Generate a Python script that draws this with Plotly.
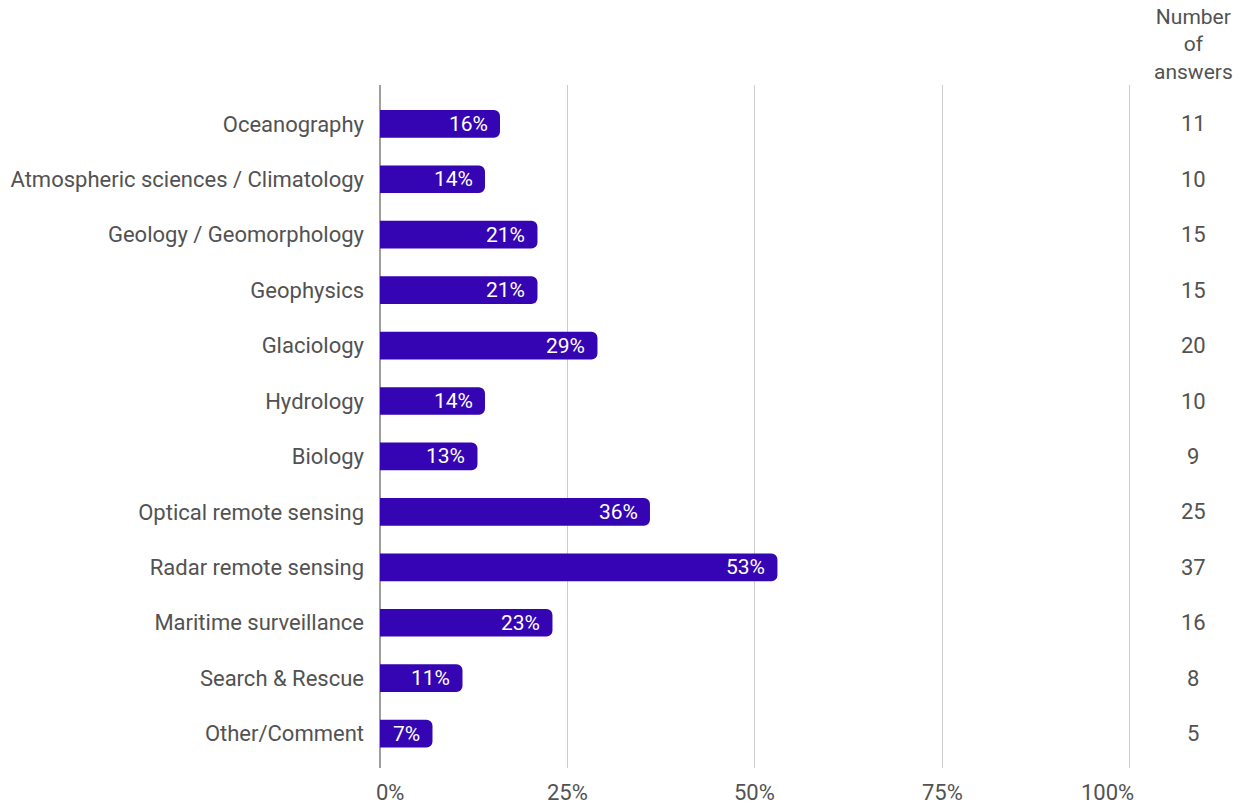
import plotly.graph_objects as go

# Survey: fields of application (share of respondents and answer counts)
categories = [
    "Oceanography",
    "Atmospheric sciences / Climatology",
    "Geology / Geomorphology",
    "Geophysics",
    "Glaciology",
    "Hydrology",
    "Biology",
    "Optical remote sensing",
    "Radar remote sensing",
    "Maritime surveillance",
    "Search & Rescue",
    "Other/Comment",
]
percent = [16, 14, 21, 21, 29, 14, 13, 36, 53, 23, 11, 7]
answers = [11, 10, 15, 15, 20, 10, 9, 25, 37, 16, 8, 5]
x_ticks = [0, 25, 50, 75, 100]
x_tick_labels = ["0%", "25%", "50%", "75%", "100%"]
count_header = "Number<br>of<br>answers"

FONT = "Roboto, Arial, sans-serif"
FS = 22
TEXT_GREY = "#525252"
BAR_COLOR = "#3504b3"

fig = go.Figure()
fig.add_trace(
    go.Bar(
        y=categories,
        x=percent,
        orientation="h",
        width=0.5,
        marker=dict(color=BAR_COLOR, cornerradius=6, line=dict(width=0)),
        hoverinfo="skip",
        cliponaxis=False,
    )
)

annotations = []
# value labels at the end of each bar
for cat, p in zip(categories, percent):
    annotations.append(
        dict(
            x=p, xref="x", y=cat, yref="y", xshift=-10,
            text=f"{p}%", showarrow=False, xanchor="right", yanchor="middle",
            font=dict(family=FONT, size=21, color="white"),
        )
    )

# x-axis tick labels: outer labels aligned to the plot edges
for v, lab in zip(x_ticks, x_tick_labels):
    if v == x_ticks[0]:
        anchor, shift = "left", -6
    elif v == x_ticks[-1]:
        anchor, shift = "right", 6
    else:
        anchor, shift = "center", 0
    annotations.append(
        dict(
            x=v, xref="x", y=0, yref="paper", yshift=-24, xshift=shift,
            text=lab, showarrow=False, xanchor=anchor, yanchor="middle",
            font=dict(family=FONT, size=FS, color=TEXT_GREY),
        )
    )

# answer counts column
count_x = 1.0826
for cat, n in zip(categories, answers):
    annotations.append(
        dict(
            x=count_x, xref="paper", y=cat, yref="y",
            text=str(n), showarrow=False, xanchor="center", yanchor="middle",
            font=dict(family=FONT, size=FS, color=TEXT_GREY),
        )
    )
annotations.append(
    dict(
        x=count_x, xref="paper", y=1, yref="paper", yshift=-1,
        text=count_header, showarrow=False, xanchor="center", yanchor="bottom",
        align="center",
        font=dict(family=FONT, size=21, color=TEXT_GREY),
    )
)

fig.update_layout(
    width=1253,
    height=804,
    margin=dict(l=380, r=122, t=85, b=36),
    paper_bgcolor="white",
    plot_bgcolor="white",
    showlegend=False,
    font=dict(family=FONT, size=FS, color=TEXT_GREY),
    annotations=annotations,
    xaxis=dict(
        range=[0, 100.15],
        tickvals=x_ticks,
        showticklabels=False,
        showgrid=True,
        gridcolor="#cccccc",
        gridwidth=1,
        zeroline=True,
        zerolinecolor="#9e9e9e",
        zerolinewidth=1.5,
        showline=False,
        automargin=False,
        fixedrange=True,
    ),
    yaxis=dict(
        categoryorder="array",
        categoryarray=categories,
        range=[11.62, -0.70],
        showgrid=False,
        zeroline=False,
        showline=False,
        ticks="",
        ticklabelstandoff=15,
        automargin=False,
        tickfont=dict(family=FONT, size=FS, color=TEXT_GREY),
        fixedrange=True,
    ),
)

fig.write_html("out.html")
